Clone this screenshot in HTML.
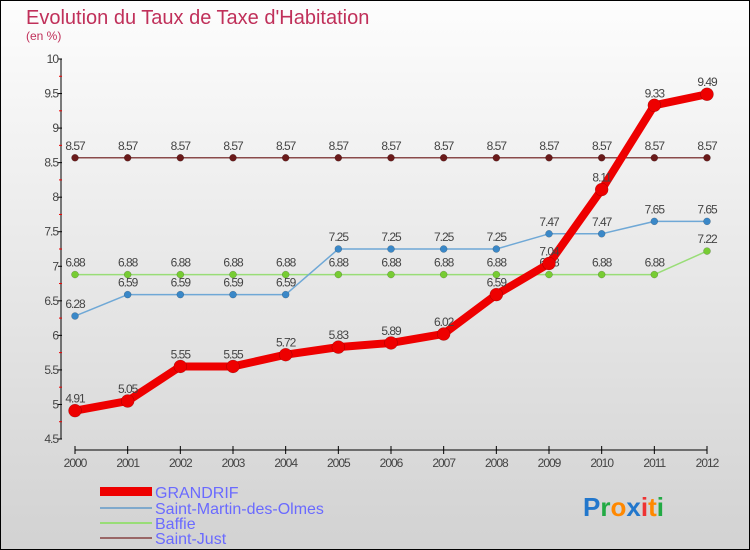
<!DOCTYPE html>
<html><head><meta charset="utf-8"><style>
html,body{margin:0;padding:0}
body{width:750px;height:550px;overflow:hidden;font-family:"Liberation Sans",sans-serif}
#wrap{position:absolute;left:0;top:0;width:748px;height:548px;border:1px solid #000;background:linear-gradient(#fdfdfd,#d2d2d2)}
</style></head><body>
<div id="wrap">
<svg id="chart" width="750" height="550" style="position:absolute;left:-1px;top:-1px">
<text x="26" y="24" font-size="20" fill="#c0305a">Evolution du Taux de Taxe d'Habitation</text>
<text x="26" y="40" font-size="12" fill="#c0305a">(en %)</text>
<g id="axes"></g><g id="series"></g>
<g>
<rect x="100" y="487" width="52" height="9" fill="#ee0000"/>
<text x="155" y="498" font-size="16" fill="#6a6aff">GRANDRIF</text>
<line x1="100" y1="508" x2="152" y2="508" stroke="#7fa9cc" stroke-width="2"/>
<text x="155" y="514" font-size="16" fill="#6a6aff">Saint-Martin-des-Olmes</text>
<line x1="100" y1="523" x2="152" y2="523" stroke="#99dd77" stroke-width="2"/>
<text x="155" y="529" font-size="16" fill="#6a6aff">Baffie</text>
<line x1="100" y1="538" x2="152" y2="538" stroke="#996666" stroke-width="2"/>
<text x="155" y="544" font-size="16" fill="#6a6aff">Saint-Just</text>
</g>
<text x="583" y="516" font-size="26" font-weight="bold"><tspan fill="#2277cc">P</tspan><tspan fill="#22aa44">r</tspan><tspan fill="#ff8800">o</tspan><tspan fill="#2277cc">x</tspan><tspan fill="#ee3333">i</tspan><tspan fill="#ff8800">t</tspan><tspan fill="#22aa44">i</tspan></text>
</svg></div>
<script>
const years=[2000,2001,2002,2003,2004,2005,2006,2007,2008,2009,2010,2011,2012];
const grandrif=[4.91,5.05,5.55,5.55,5.72,5.83,5.89,6.02,6.59,7.04,8.11,9.33,9.49];
const saintMartin=[6.28,6.59,6.59,6.59,6.59,7.25,7.25,7.25,7.25,7.47,7.47,7.65,7.65];
const baffie=[6.88,6.88,6.88,6.88,6.88,6.88,6.88,6.88,6.88,6.88,6.88,6.88,7.22];
const saintJust=[8.57,8.57,8.57,8.57,8.57,8.57,8.57,8.57,8.57,8.57,8.57,8.57,8.57];
const yTicks=[4.5,5,5.5,6,6.5,7,7.5,8,8.5,9,9.5,10];
const NS="http://www.w3.org/2000/svg";
function X(i){return 75+i*(707-75)/(years.length-1);}
function Y(v){return 439-(v-4.5)*(380/5.5);}
function mk(t,a,p){const e=document.createElementNS(NS,t);for(const k in a)e.setAttribute(k,a[k]);p.appendChild(e);return e;}
const ax=document.getElementById('axes');
let e=mk('line',{x1:61,y1:Y(10),x2:61,y2:Y(4.5),stroke:'#000','stroke-width':1},ax);


yTicks.forEach((v,i)=>{
 mk('line',{x1:58,y1:Y(v),x2:62,y2:Y(v),stroke:'#000'},ax);
 if(i<yTicks.length-1)mk('line',{x1:59,y1:Y(v+0.25),x2:62,y2:Y(v+0.25),stroke:'#ee0000'},ax);
 const t=mk('text',{x:58,y:Y(v)+4,'text-anchor':'end','font-size':12,fill:'#444','letter-spacing':'-1'},ax);
 t.textContent=String(v);
 
 
});
e=mk('line',{x1:75,y1:450,x2:707,y2:450,stroke:'#000'},ax);


years.forEach((y,i)=>{
 mk('line',{x1:X(i),y1:446,x2:X(i),y2:454,stroke:'#000'},ax);
 const t=mk('text',{x:X(i),y:467,'text-anchor':'middle','font-size':12,fill:'#444','letter-spacing':'-1'},ax);
 t.textContent=String(y);
 
 
});
const sg=document.getElementById('series');
function series(vals,name,color,dot,sw,r){
 const g=mk('g',{},sg);
 
 
 const pts=vals.map((v,i)=>X(i)+','+Y(v)).join(' ');
 mk('polyline',{points:pts,fill:'none',stroke:color,'stroke-width':sw,'stroke-linejoin':'round'},g);
 vals.forEach((v,i)=>{
  const c=mk('circle',{cx:X(i),cy:Y(v),r:r,fill:dot,stroke:'rgba(0,0,0,0.3)','stroke-width':0.5},g);
  
  
  const t=mk('text',{x:X(i),y:Y(v)-8,'text-anchor':'middle','font-size':12,fill:'#444','letter-spacing':'-1'},g);
  t.textContent=String(v);
  
  
 });
}
series(saintJust,'saint-just','#8a4a4a','#6a1a1a',1.5,3.5);
series(baffie,'baffie','#99dd77','#77cc33',1.5,3.5);
series(saintMartin,'saint-martin','#6fa8d6','#3a88c8',1.5,3.5);
series(grandrif,'grandrif','#ee0000','#ee0000',8,6.5);
</script>
</body></html>
